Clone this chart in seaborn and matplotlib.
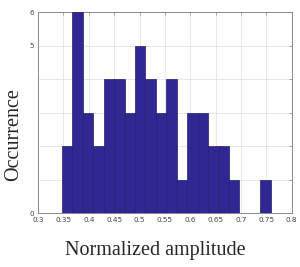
import seaborn as sns
import numpy as np
import matplotlib.pyplot as plt
import pandas as pd

# histogram: 20 bins between lo and hi
bin_lo = 0.347
bin_hi = 0.759
counts = [2, 6, 3, 2, 4, 4, 3, 5, 4, 3, 4, 1, 3, 3, 2, 2, 1, 0, 0, 1]
xticks = [0.3, 0.35, 0.4, 0.45, 0.5, 0.55, 0.6, 0.65, 0.7, 0.75, 0.8]
xticklabels = ['0.3', '0.35', '0.4', '0.45', '0.5', '0.55', '0.6', '0.65', '0.7', '0.75', '0.8']
yticks = [0, 1, 2, 3, 4, 5, 6]
yticklabels = ['0', '', '', '', '', '5', '6']

edges = list(np.linspace(bin_lo, bin_hi, len(counts) + 1))
centers = [(a + b) / 2 for a, b in zip(edges[:-1], edges[1:])]
df = pd.DataFrame({'amp': centers, 'n': counts})

sns.set_style('white')
fig = plt.figure(figsize=(3, 2.67), dpi=100)
ax = fig.add_axes([0.127, 0.202, 0.845, 0.753])

sns.histplot(data=df, x='amp', weights='n', bins=edges, ax=ax,
             color='#2f2893', alpha=1, edgecolor='#241d70', linewidth=0.5,
             zorder=3)

ax.set_xlim(0.3, 0.8)
ax.set_ylim(0, 6)
ax.set_xticks(xticks)
ax.set_xticklabels(xticklabels)
ax.set_yticks(yticks)
ax.set_yticklabels(yticklabels)
ax.grid(True, color='#e3e3e3', linewidth=0.6, zorder=0)
ax.set_axisbelow(True)
ax.tick_params(direction='in', length=2, width=0.5, colors='#888888',
               labelcolor='#444444', labelsize=5.2, top=True, right=True, pad=3)
for s in ax.spines.values():
    s.set_color('#8a8a8a')
    s.set_linewidth(0.7)

ax.set_xlabel('Normalized amplitude', family='Liberation Serif', fontsize=14.5)
ax.set_ylabel('Occurrence', family='Liberation Serif', fontsize=14.5)
ax.xaxis.set_label_coords(0.462, -0.14)
ax.yaxis.set_label_coords(-0.06, 0.39)

plt.savefig('out.png', dpi=100)
